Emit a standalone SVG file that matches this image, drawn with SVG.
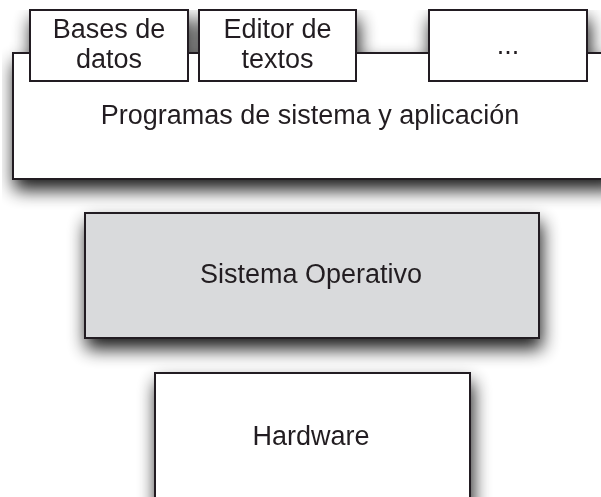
<svg xmlns="http://www.w3.org/2000/svg" width="601" height="497" viewBox="0 0 601 497">
  <style>
    .box { fill: #ffffff; stroke: #231f20; stroke-width: 2; }
    .os { fill: #d9dadc; }
    .lbl { font-family: "Liberation Sans", Arial, Helvetica, sans-serif; font-size: 27px; fill: #231f20; text-anchor: middle; }
  </style>
  <defs>
    <filter id="shApps" filterUnits="userSpaceOnUse" x="0" y="0" width="640" height="213">
      <feGaussianBlur in="SourceAlpha" stdDeviation="9"/>
      <feOffset dx="2" dy="10" result="off"/>
      <feComponentTransfer><feFuncA type="linear" slope="0.9"/></feComponentTransfer>
      <feMerge><feMergeNode/><feMergeNode in="SourceGraphic"/></feMerge>
    </filter>
    <filter id="shOS" filterUnits="userSpaceOnUse" x="60" y="190" width="505" height="180">
      <feGaussianBlur in="SourceAlpha" stdDeviation="9"/>
      <feOffset dx="2" dy="10" result="off"/>
      <feComponentTransfer><feFuncA type="linear" slope="0.9"/></feComponentTransfer>
      <feMerge><feMergeNode/><feMergeNode in="SourceGraphic"/></feMerge>
    </filter>
    <filter id="shHW" filterUnits="userSpaceOnUse" x="130" y="350" width="365" height="160">
      <feGaussianBlur in="SourceAlpha" stdDeviation="9"/>
      <feOffset dx="2" dy="10" result="off"/>
      <feComponentTransfer><feFuncA type="linear" slope="0.9"/></feComponentTransfer>
      <feMerge><feMergeNode/><feMergeNode in="SourceGraphic"/></feMerge>
    </filter>
  </defs>
  <rect x="0" y="0" width="601" height="497" fill="#ffffff"/>

  <g id="connectors"></g>

  <g filter="url(#shApps)">
    <g id="programas">
      <rect class="box" x="13" y="53" width="602" height="126"/>
      <text class="lbl" x="310" y="124">Programas de sistema y aplicación</text>
    </g>
    <g id="bases-datos">
      <rect class="box" x="30" y="10" width="158" height="71"/>
      <text class="lbl" x="109" y="38">Bases de</text>
      <text class="lbl" x="109" y="68">datos</text>
    </g>
    <g id="editor-textos">
      <rect class="box" x="199" y="10" width="157" height="71"/>
      <text class="lbl" x="277.5" y="38">Editor de</text>
      <text class="lbl" x="277.5" y="68">textos</text>
    </g>
    <g id="otros">
      <rect class="box" x="429" y="10" width="158" height="71"/>
      <text class="lbl" x="508" y="54">...</text>
    </g>
  </g>

  <g id="sistema-operativo" filter="url(#shOS)">
    <rect class="box os" x="85" y="213" width="454" height="125"/>
    <text class="lbl" x="311" y="282.5">Sistema Operativo</text>
  </g>

  <g id="hardware" filter="url(#shHW)">
    <rect class="box" x="155" y="373" width="315" height="140"/>
    <text class="lbl" x="311" y="444.5">Hardware</text>
  </g>
</svg>
